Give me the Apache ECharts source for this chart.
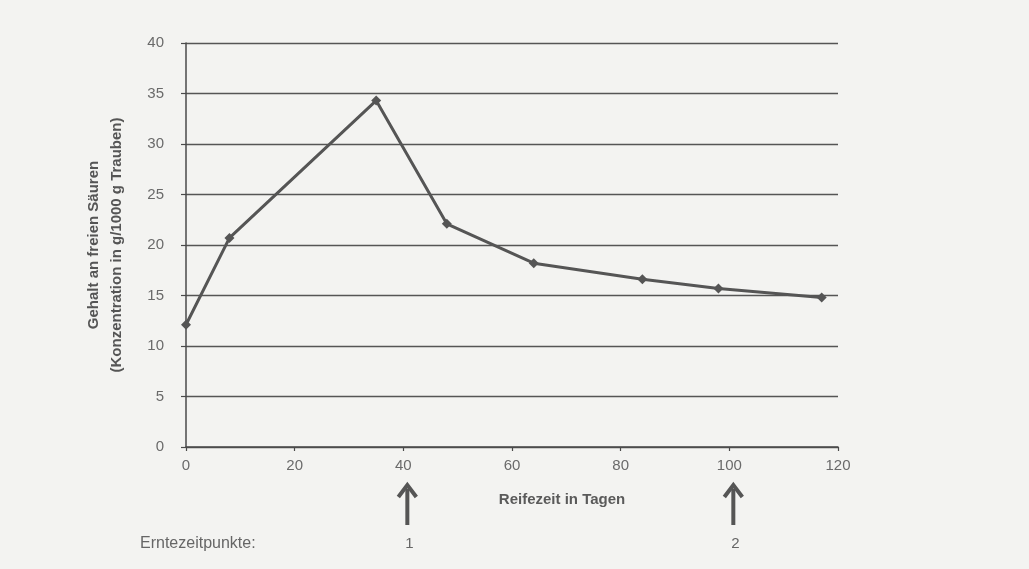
<!DOCTYPE html>
<html>
<head>
<meta charset="utf-8">
<script src="https://cdn.jsdelivr.net/npm/echarts@6/dist/echarts.min.js"></script>
<style>
html,body{margin:0;padding:0;background:#f3f3f1;}
#chart{width:1029px;height:569px;}
</style>
</head>
<body>
<div id="chart"></div>
<script>
// Data
const ripeDays = [0, 8, 35, 48, 64, 84, 98, 117];
const acidValues = [12.1, 20.7, 34.3, 22.1, 18.2, 16.6, 15.7, 14.8];
const harvestDays = [40, 100];
const harvestLabels = ['1', '2'];
const harvestCaption = 'Erntezeitpunkte:';
const xName = 'Reifezeit in Tagen';
const yName = 'Gehalt an freien Säuren\n(Konzentration in g/1000 g Trauben)';

const FONT = '"Liberation Sans", Arial, sans-serif';
const chart = echarts.init(document.getElementById('chart'));

const option = {
  backgroundColor: '#f3f3f1',
  animation: false,
  grid: { left: 186, right: 191, top: 43, bottom: 122 },
  xAxis: {
    type: 'value', min: 0, max: 120, interval: 20,
    name: xName, nameLocation: 'middle', nameGap: 45,
    nameTextStyle: { color: '#5a5a5a', fontFamily: FONT, fontWeight: 'bold', fontSize: 15, padding: [0, 0, 0, 100] },
    axisLine: { show: true, lineStyle: { color: '#4a4a4a', width: 1.5 } },
    axisTick: { show: true, length: 4, lineStyle: { color: '#4a4a4a', width: 1.2 } },
    axisLabel: { color: '#6a6a6a', fontFamily: FONT, fontSize: 15, margin: 11 },
    splitLine: { show: false }
  },
  yAxis: {
    type: 'value', min: 0, max: 40, interval: 5,
    name: yName, nameLocation: 'middle', nameGap: 58, nameRotate: 90,
    nameTextStyle: { color: '#555', fontFamily: FONT, fontWeight: 'bold', fontSize: 15, lineHeight: 23, align: 'center' },
    axisLine: { show: true, lineStyle: { color: '#4a4a4a', width: 1.5 } },
    axisTick: { show: true, length: 5, lineStyle: { color: '#4a4a4a', width: 1.2 } },
    axisLabel: { color: '#6a6a6a', fontFamily: FONT, fontSize: 15, margin: 22 },
    splitLine: { show: true, lineStyle: { color: '#555', width: 1.3 } }
  },
  series: [{
    type: 'line',
    data: ripeDays.map((d, i) => [d, acidValues[i]]),
    symbol: 'diamond', symbolSize: 10,
    lineStyle: { color: '#555', width: 3 },
    itemStyle: { color: '#555' }
  }]
};
chart.setOption(option);

// Harvest arrows placed through the x axis scale
const graphics = [];
const axisY = chart.convertToPixel({ yAxisIndex: 0 }, 0);
harvestDays.forEach((d, i) => {
  const x = chart.convertToPixel({ xAxisIndex: 0 }, d) + 4;
  const top = axisY + 36, bottom = axisY + 78;
  graphics.push({
    type: 'line', shape: { x1: x, y1: top + 6, x2: x, y2: bottom },
    style: { stroke: '#555', lineWidth: 4 }
  });
  graphics.push({
    type: 'polyline', shape: { points: [[x - 9, top + 14], [x, top + 2], [x + 9, top + 14]] },
    style: { stroke: '#555', lineWidth: 4, fill: null }
  });
  graphics.push({
    type: 'text', x: x + 2, y: axisY + 97,
    style: { text: harvestLabels[i], fill: '#666', font: '15px ' + FONT, textAlign: 'center', textVerticalAlign: 'middle' }
  });
});
graphics.push({
  type: 'text', x: 140, y: axisY + 97,
  style: { text: harvestCaption, fill: '#666', font: '16px ' + FONT, textAlign: 'left', textVerticalAlign: 'middle' }
});
chart.setOption({ graphic: graphics });
</script>
</body>
</html>
